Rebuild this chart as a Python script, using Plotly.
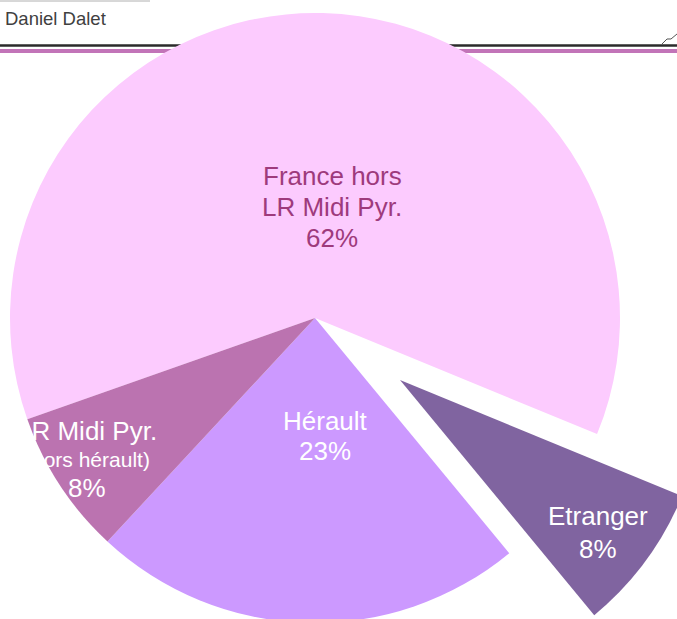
import plotly.graph_objects as go

# ---- data ----
labels = ["France hors LR Midi Pyr.", "Etranger", "Hérault", "LR Midi Pyr. (hors hérault)"]
label_lines = [["France hors", "LR Midi Pyr."], ["Etranger"], ["Hérault"], ["LR Midi Pyr.", "(hors hérault)"]]
values = [61.6, 7.8, 22.9, 7.7]
colors = ["#FCCBFE", "#8064A0", "#CC99FF", "#BB73B0"]
text_colors = ["#9E3A7C", "white", "white", "white"]
header_text = "Daniel Dalet"

# ---- geometry (pixels in the viewport) ----
W, H = 720, 700
FONT = "Liberation Sans, Arial, sans-serif"


def fx(x):
    return x / W


def fy(y):
    return 1 - y / H


R = 305
cx, cy = 315, 318          # main pie centre
px, py = 400, 380          # exploded slice centre
rotation = -109.4

fig = go.Figure()

# main pie (exploded slice left empty)
fig.add_trace(go.Pie(
    labels=labels, values=values, sort=False, direction="clockwise",
    rotation=rotation, textinfo="none", hoverinfo="label+percent",
    marker=dict(colors=[c if i != 1 else "rgba(0,0,0,0)" for i, c in enumerate(colors)],
                line=dict(width=0)),
    domain=dict(x=[fx(cx - R), fx(cx + R)], y=[fy(cy + R), fy(cy - R)]),
    showlegend=False,
))

# exploded slice drawn from a second, shifted pie
fig.add_trace(go.Pie(
    labels=labels, values=values, sort=False, direction="clockwise",
    rotation=rotation, textinfo="none", hoverinfo="label+percent",
    marker=dict(colors=[c if i == 1 else "rgba(0,0,0,0)" for i, c in enumerate(colors)],
                line=dict(width=0)),
    domain=dict(x=[fx(px - R), fx(px + R)], y=[fy(py + R), fy(py - R)]),
    showlegend=False,
))

# slice labels
total = sum(values)
line_pos = [
    (332, [176, 207, 238], [26, 26, 26]),
    (598, [516, 549], [26, 26]),
    (325, [421, 451], [26, 26]),
    (87, [431, 459, 488], [26, 21, 26]),
]
annotations = []
for i, (x, ys, sizes) in enumerate(line_pos):
    texts = label_lines[i] + ["%d%%" % round(values[i] / total * 100)]
    for t, y, s in zip(texts, ys, sizes):
        annotations.append(dict(
            x=fx(x), y=fy(y), xref="paper", yref="paper", text=t, showarrow=False,
            xanchor="center", yanchor="middle",
            font=dict(family=FONT, size=s, color=text_colors[i]),
        ))

annotations.append(dict(
    x=fx(3), y=fy(19), xref="paper", yref="paper", text=header_text, showarrow=False,
    xanchor="left", yanchor="middle", font=dict(family=FONT, size=18.5, color="#404040"),
))

shapes = [
    dict(type="line", xref="paper", yref="paper", x0=0, x1=fx(150), y0=fy(1), y1=fy(1),
         line=dict(color="#b0b0b0", width=1), layer="below"),
    dict(type="line", xref="paper", yref="paper", x0=0, x1=1, y0=fy(45.5), y1=fy(45.5),
         line=dict(color="#2b2b2b", width=2.5), layer="below"),
    dict(type="line", xref="paper", yref="paper", x0=0, x1=1, y0=fy(51), y1=fy(51),
         line=dict(color="#C274B8", width=4), layer="below"),
    dict(type="path", xref="paper", yref="paper",
         path="M %f,%f L %f,%f L %f,%f L %f,%f" % (fx(662), fy(44), fx(667), fy(39),
                                                   fx(671), fy(39), fx(677), fy(34)),
         line=dict(color="#555555", width=1), layer="below"),
]

fig.update_layout(
    width=W, height=H, autosize=False,
    margin=dict(l=0, r=0, t=0, b=0, pad=0),
    paper_bgcolor="white", plot_bgcolor="white",
    annotations=annotations, shapes=shapes,
)

fig.write_html(
    "out.html",
    config={"displayModeBar": False},
    post_script="document.body.style.margin='0';document.body.style.overflow='hidden';",
)
